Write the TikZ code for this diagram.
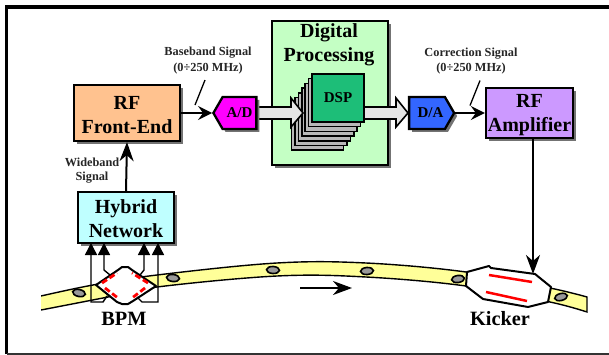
\documentclass[tikz,border=0pt]{standalone}
\usepackage{fontspec}
\setmainfont{Liberation Serif}
\usetikzlibrary{arrows.meta,shadows,shapes.symbols,shapes.geometric,calc}
\definecolor{fecol}{HTML}{FFC28F}
\definecolor{hybcol}{HTML}{BFFFFF}
\definecolor{dpcol}{HTML}{C4FFC4}
\definecolor{dspcol}{HTML}{1DBE78}
\definecolor{adcol}{HTML}{FF00FF}
\definecolor{dacol}{HTML}{3366FF}
\definecolor{ampcol}{HTML}{CC99FF}
\definecolor{beamcol}{HTML}{FFFF99}
\tikzset{
 shade3/.style={drop shadow={shadow xshift=3pt,shadow yshift=-3pt,fill=black!55,opacity=1}},
 blockbox/.style={draw=black,line width=2.3pt,shade3,align=center,inner sep=0pt,font=\bfseries\fontsize{20}{24}\selectfont},
 convbox/.style={draw=black,line width=2.3pt,shade3,signal,inner sep=0pt,font=\bfseries\fontsize{15}{15}\selectfont,signal pointer angle=120},
 sheet/.style={draw=black,line width=1.6pt,fill=black!28,minimum width=52pt,minimum height=48pt,inner sep=0pt},
 sigshort/.style={line width=2pt,-{Stealth[length=14pt,width=14pt,inset=5pt]}},
 siglong/.style={line width=2pt,-{Stealth[length=19pt,width=14pt,inset=6pt]}},
 wirehead/.style={line width=1.4pt,-{Triangle[length=12pt,width=12pt]}},
 note/.style={align=center,font=\bfseries\fontsize{12.3}{15.5}\selectfont,text=black!85,inner sep=0pt},
 tick/.style={line width=1.3pt},
 hollow/.style={draw=black,line width=1.6pt,fill=black!10},
 btn/.style={draw=black,line width=1.6pt,fill=black!40,ellipse,minimum width=13pt,minimum height=7pt,inner sep=0pt},
 pickup/.style={line width=2.8pt,red,dash pattern=on 6pt off 3pt},
 caption/.style={font=\bfseries\fontsize{20.3}{21}\selectfont,inner sep=0pt}
}
\begin{document}
\begin{tikzpicture}[x=1pt,y=-1pt]
\useasboundingbox (0,0) rectangle (609,355);
\fill[white] (0,0) rectangle (609,355);
% frame
\draw[line width=3.4pt] (6.5,354) -- (6.5,7) -- (609,7);
\draw[line width=1.2pt,black!80] (6.5,354) -- (609,354);

% beam pipe
\draw[line width=1.4pt,fill=beamcol]
  plot[smooth,tension=0.6] coordinates {(41,296) (93,285) (157,275) (277,263) (366,263) (466,272) (550,288) (587,297)}
  -- plot[smooth,tension=0.6] coordinates {(587,312) (550,302) (466,286) (366,277) (277,276) (157,287) (108,297) (41,310)} ;
\fill[white] (38,290) rectangle (41,315);
\fill[white] (587.7,290) rectangle (592,318);
\foreach \nm/\px/\py/\ang in {e1/79/293/-12,e2/173/278/-6,e3/273/270/-3,e4/367/271/4,e5/458/279/8,e6/561/297/14}
  \node[btn,rotate=\ang] (\nm) at (\px,\py) {};

% BPM
\draw[line width=2pt,fill=white,line join=round] (96,285) -- (118,270) -- (122,267) -- (128,267) -- (132,270) -- (156,286) -- (133,301) -- (128,304) -- (122,304) -- (117,302) -- cycle;
\draw[pickup] (102,283) -- (117,273);
\draw[pickup] (148,283) -- (132,273);
\draw[pickup] (105,288) -- (118,298);
\draw[pickup] (145,288) -- (132,298);
\node[caption] (bpmlabel) at (124,319) {BPM};

% Kicker
\draw[line width=2pt,fill=white,line join=round] (467,272) -- (489,266) -- (491,268) -- (535,274) -- (551,287) -- (548,302) -- (528,307) -- (483,299) -- (466,286) -- cycle;
\draw[line width=2.5pt,red] (489,275) -- (532,282);
\draw[line width=2.5pt,red] (486,292) -- (527,301);
\node[caption] (kicklabel) at (500,319) {Kicker};
\coordinate (kickin) at (533,274);

% beam direction
\coordinate (dirfrom) at (300,288);
\coordinate (dirto) at (352,288);
\draw[siglong] (dirfrom) -- (dirto);

% main blocks
\node[blockbox,fill=fecol,minimum width=106pt,minimum height=56pt] (fe) at (127,113) {\rule{0pt}{17.5pt}RF\\Front-End};
\node[blockbox,fill=hybcol,minimum width=96pt,minimum height=51pt] (hyb) at (126,217.5) {\rule{0pt}{16pt}Hybrid\\Network};
\node[blockbox,fill=dpcol,minimum width=116pt,minimum height=144pt,anchor=north] (dp) at (330,20) {};
\node[font=\bfseries\fontsize{20}{24}\selectfont,align=center,inner sep=0pt] (dptext) at (329,44.5) {Digital\\Processing};
\node[blockbox,fill=ampcol,minimum width=87pt,minimum height=50pt] (amp) at (529.5,113) {\rule{0pt}{17pt}RF\\Amplifier};

% DSP stack
\foreach \k in {6,5,4,3,2,1}
  \node[sheet] (s\k) at ({338-3.4*\k},{98+4.7*\k}) {};
\draw[hollow] (258,107) -- (291,107) -- (291,98) -- (303,113) -- (291,127) -- (291,119) -- (258,119) -- cycle;
\node[sheet,fill=dspcol,font=\bfseries\fontsize{15}{15}\selectfont] (dsp) at (338,98) {DSP};
\draw[hollow] (364,107) -- (396,107) -- (396,98) -- (408,113) -- (396,127) -- (396,119) -- (364,119) -- cycle;

% converters
\node[convbox,fill=adcol,signal to=west,minimum width=43pt,minimum height=32pt] (ad) at (239.5,113) {A/D};
\node[convbox,fill=dacol,signal to=east,minimum width=45pt,minimum height=32pt] (da) at (427,113) {\hspace*{7pt}D/A};

% connectors
\draw[sigshort] (fe.east) -- (ad.west);
\draw[sigshort] (da.east) -- (amp.west);
\draw[siglong] (hyb.north) -- (fe.south);
\draw[siglong] (amp.south -| kickin) -- (kickin);

% BPM wires
\coordinate (p1) at (107,296); \coordinate (p2) at (110,275);
\coordinate (p3) at (140,275); \coordinate (p4) at (137,297);
\coordinate (h1) at (91,243); \coordinate (h2) at (104,243);
\coordinate (h3) at (144,243); \coordinate (h4) at (158,243);
\draw[wirehead] (p1) -- (103,302) -- (91,302) -- (h1);
\draw[wirehead] (p2) -- (104,270) -- (h2);
\draw[wirehead] (p3) -- (144,270) -- (h3);
\draw[wirehead] (p4) -- (142,302) -- (158,302) -- (h4);

% notes
\node[note] (nb) at (208,60.5) {Baseband Signal\\(0÷250 MHz)};
\node[note] (nc) at (471,61) {Correction Signal\\(0÷250 MHz)};
\node[note,font=\bfseries\fontsize{12.3}{14}\selectfont] (nw) at (92,171) {Wideband\\Signal};
\draw[tick] ([xshift=-3pt,yshift=-6pt]nb.south) -- +(-10,25);
\draw[tick] ([xshift=9pt,yshift=-6pt]nc.south) -- +(-10,25);
\end{tikzpicture}
\end{document}
